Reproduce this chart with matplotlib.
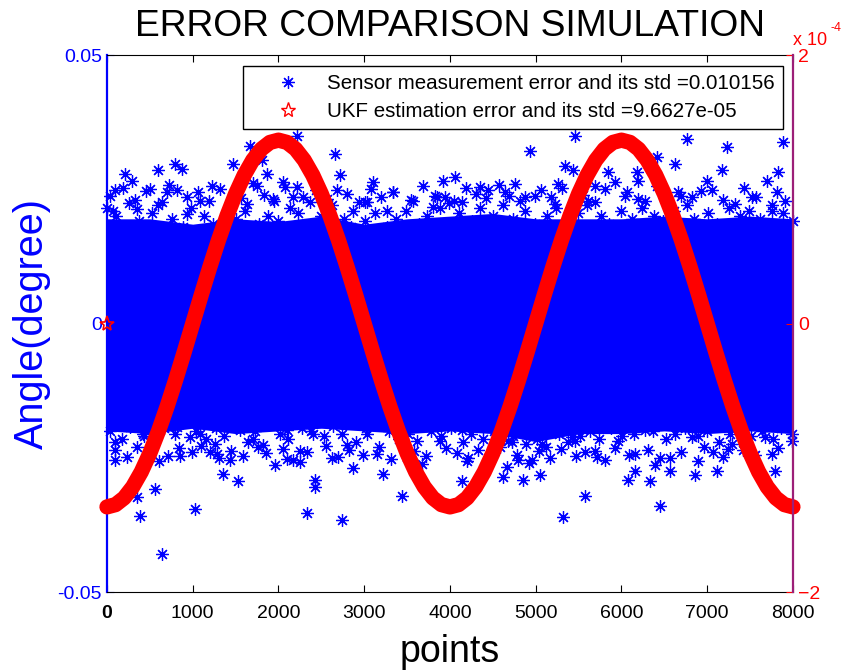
import matplotlib
matplotlib.use('Agg')
import matplotlib.pyplot as plt
from matplotlib.lines import Line2D

plt.rcParams['font.family'] = ['Liberation Sans', 'DejaVu Sans']

# dense core of the sensor error cloud (upper / lower edge), read every 500 points
core_x = [0, 500, 1000, 1500, 2000, 2500, 3000, 3500, 4000,
          4500, 5000, 5500, 6000, 6500, 7000, 7500, 8000]
core_hi = [0.0195, 0.0195, 0.0185, 0.0195, 0.0190, 0.0200, 0.0185, 0.0195, 0.0200,
           0.0205, 0.0195, 0.0195, 0.0195, 0.0200, 0.0195, 0.0200, 0.0195]
core_lo = [-0.0200, -0.0205, -0.0195, -0.0205, -0.0200, -0.0195, -0.0200, -0.0205,
           -0.0200, -0.0205, -0.0220, -0.0205, -0.0205, -0.0200, -0.0205, -0.0200,
           -0.0205]

# ragged upper edge of the cloud
edge_hi_x = [0, 110, 260, 370, 520, 600, 760, 890, 980, 1130, 1240, 1390, 1500, 1610,
             1770, 1880, 1990, 2140, 2230, 2390, 2500, 2620, 2760, 2850, 3010, 3120,
             3260, 3370, 3490, 3640, 3730, 3880, 3990, 4110, 4260, 4350, 4500, 4620,
             4740, 4880, 4990, 5130, 5240, 5370, 5490, 5600, 5760, 5860, 5990, 6120,
             6240, 6380, 6490, 6610, 6760, 6850, 7010, 7120, 7250, 7380, 7490, 7620,
             7750, 7880, 8000]
edge_hi = [0.0215, 0.0200, 0.0225, 0.0190, 0.0205, 0.0220, 0.0195, 0.0180, 0.0215, 0.0200,
           0.0185, 0.0175, 0.0195, 0.0210, 0.0185, 0.0200, 0.0190, 0.0215, 0.0205, 0.0185,
           0.0200, 0.0220, 0.0195, 0.0180, 0.0190, 0.0205, 0.0180, 0.0195, 0.0210, 0.0185,
           0.0200, 0.0215, 0.0225, 0.0205, 0.0190, 0.0215, 0.0200, 0.0220, 0.0195, 0.0210,
           0.0185, 0.0200, 0.0215, 0.0190, 0.0205, 0.0220, 0.0200, 0.0185, 0.0210, 0.0195,
           0.0215, 0.0200, 0.0190, 0.0210, 0.0220, 0.0195, 0.0205, 0.0185, 0.0215, 0.0200,
           0.0210, 0.0195, 0.0220, 0.0205, 0.0190]

# ragged lower edge of the cloud
edge_lo_x = [40, 170, 280, 430, 540, 660, 790, 880, 1040, 1150, 1270, 1360, 1530, 1640,
             1730, 1890, 2020, 2110, 2270, 2380, 2530, 2640, 2740, 2900, 3020, 3130,
             3290, 3400, 3510, 3620, 3780, 3900, 4010, 4150, 4240, 4390, 4510, 4640,
             4730, 4890, 5010, 5120, 5270, 5380, 5520, 5630, 5740, 5880, 6010, 6150,
             6260, 6370, 6520, 6630, 6740, 6890, 7000, 7140, 7270, 7360, 7510, 7640,
             7770, 7860, 7990]
edge_lo = [-0.0200, -0.0215, -0.0190, -0.0210, -0.0225, -0.0195, -0.0205, -0.0185, -0.0200, -0.0215,
           -0.0195, -0.0210, -0.0190, -0.0220, -0.0200, -0.0185, -0.0205, -0.0215, -0.0195, -0.0200,
           -0.0210, -0.0190, -0.0205, -0.0220, -0.0195, -0.0185, -0.0200, -0.0215, -0.0205, -0.0190,
           -0.0200, -0.0210, -0.0195, -0.0220, -0.0205, -0.0215, -0.0200, -0.0190, -0.0210, -0.0225,
           -0.0215, -0.0230, -0.0205, -0.0220, -0.0210, -0.0200, -0.0215, -0.0195, -0.0210, -0.0205,
           -0.0190, -0.0200, -0.0215, -0.0205, -0.0195, -0.0210, -0.0200, -0.0220, -0.0205, -0.0195,
           -0.0210, -0.0200, -0.0215, -0.0195, -0.0205]

# looser band just outside the edges
outer_hi_x = [30, 190, 330, 450, 640, 720, 930, 1060, 1190, 1320, 1560, 1700, 1830, 1950,
              2080, 2290, 2440, 2570, 2800, 2940, 3080, 3190, 3330, 3540, 3690, 3820,
              4050, 4190, 4300, 4420, 4570, 4690, 4820, 5060, 5180, 5310, 5550, 5690,
              5810, 6060, 6190, 6420, 6700, 6930, 7180, 7430, 7570, 7810]
outer_hi = [0.0238, 0.0252, 0.0230, 0.0246, 0.0226, 0.0258, 0.0236, 0.0244, 0.0229, 0.0250,
            0.0234, 0.0262, 0.0240, 0.0228, 0.0254, 0.0236, 0.0248, 0.0231, 0.0242, 0.0226,
            0.0250, 0.0235, 0.0244, 0.0230, 0.0256, 0.0238, 0.0228, 0.0252, 0.0242, 0.0233,
            0.0258, 0.0238, 0.0229, 0.0248, 0.0236, 0.0252, 0.0240, 0.0227, 0.0250, 0.0244,
            0.0232, 0.0256, 0.0238, 0.0246, 0.0230, 0.0252, 0.0236, 0.0244]
outer_lo_x = [90, 230, 350, 500, 610, 840, 990, 1100, 1310, 1450, 1590, 1760, 1860, 2050,
              2170, 2330, 2560, 2690, 2820, 2980, 3170, 3310, 3580, 3720, 3950, 4080,
              4200, 4330, 4460, 4580, 4780, 4920, 5040, 5170, 5300, 5470, 5580, 5810,
              5930, 6090, 6310, 6450, 6690, 6960, 7190, 7420, 7560, 7830]
outer_lo = [-0.0236, -0.0248, -0.0230, -0.0244, -0.0256, -0.0232, -0.0240, -0.0228, -0.0250, -0.0238,
            -0.0246, -0.0230, -0.0242, -0.0234, -0.0254, -0.0240, -0.0228, -0.0248, -0.0236, -0.0244,
            -0.0230, -0.0252, -0.0238, -0.0246, -0.0232, -0.0242, -0.0256, -0.0236, -0.0248, -0.0230,
            -0.0244, -0.0260, -0.0238, -0.0250, -0.0234, -0.0246, -0.0240, -0.0254, -0.0232, -0.0244,
            -0.0236, -0.0250, -0.0240, -0.0230, -0.0248, -0.0236, -0.0244, -0.0232]

# scattered sensor error samples outside the cloud (point index, error)
fringe_x = [1668, 1473, 1804, 2212, 2659, 2717, 793, 871, 599, 210, 288, 93, 501,
            1221, 1862, 2056, 2212, 1746, 2678, 3106, 3339, 3922, 3845, 3028, 812,
            5458, 4933, 6760, 7226, 7887, 6410, 6624, 5341, 5438, 5846, 6177, 7167,
            7828, 4058, 5924, 6196, 6993, 7693, 5264, 4350, 4758, 5691, 7517, 7907,
            4136, 4991, 6662, 6041,
            74, 346, 696, 929, 1085, 1629, 1940, 2173, 2367, 2873, 3009, 3262, 3572,
            3806, 3942, 4447, 4641, 4875, 5224, 5613, 6274, 6818, 7051, 7323, 7751,
            638, 385, 1026, 2329, 2737, 3436, 560, 346, 2426, 2426, 1357, 1531, 3222,
            2873, 93, 1434, 1959, 2096, 2251, 2620, 3144, 715, 851, 1201, 1279, 2795,
            3669, 2251, 93, 1823, 1259, 3494,
            5322, 5574, 6449, 4136, 4855, 4622, 5050, 6072, 6332, 6157, 6565, 6391,
            6857, 6896, 7109, 7790, 4214, 4661, 4797, 4952, 6565, 7070, 7751, 5710,
            6157, 4719, 5458, 7245,
            268, 424, 812, 968, 1085, 1551, 1706, 2096, 2406, 3028, 3611, 3883,
            4136, 4680, 5069, 5418, 5691, 5963, 6274, 6818, 7284, 7673, 7984]
fringe_y = [0.0331, 0.0297, 0.0304, 0.0350, 0.0316, 0.0276, 0.0297, 0.0288, 0.0285,
            0.0279, 0.0266, 0.0248, 0.0251, 0.0257, 0.0279, 0.0263, 0.0254, 0.0257,
            0.0248, 0.0263, 0.0245, 0.0266, 0.0235, 0.0226, 0.0248,
            0.0350, 0.0322, 0.0344, 0.0328, 0.0338, 0.0310, 0.0297, 0.0294, 0.0285,
            0.0282, 0.0282, 0.0285, 0.0282, 0.0272, 0.0263, 0.0266, 0.0266, 0.0266,
            0.0260, 0.0254, 0.0260, 0.0257, 0.0235, 0.0229, 0.0226, 0.0238, 0.0245,
            0.0238,
            0.0210, 0.0214, 0.0245, 0.0204, 0.0229, 0.0223, 0.0232, 0.0235, 0.0226,
            0.0210, 0.0226, 0.0210, 0.0229, 0.0217, 0.0235, 0.0248, 0.0245, 0.0235,
            0.0223, 0.0229, 0.0229, 0.0235, 0.0248, 0.0223, 0.0210,
            -0.0429, -0.0358, -0.0345, -0.0353, -0.0366, -0.0322, -0.0308, -0.0323,
            -0.0292, -0.0305, -0.0280, -0.0294, -0.0280, -0.0269, -0.0254, -0.0255,
            -0.0263, -0.0252, -0.0258, -0.0250, -0.0243, -0.0246, -0.0246, -0.0240,
            -0.0243, -0.0227, -0.0261, -0.0237, -0.0221, -0.0227, -0.0224, -0.0249,
            -0.0361, -0.0322, -0.0339, -0.0294, -0.0291, -0.0286, -0.0283, -0.0291,
            -0.0294, -0.0274, -0.0274, -0.0264, -0.0283, -0.0256, -0.0274, -0.0274,
            -0.0250, -0.0268, -0.0255, -0.0255, -0.0250, -0.0240, -0.0243, -0.0248,
            -0.0243, -0.0221, -0.0218, -0.0234,
            -0.0193, -0.0205, -0.0193, -0.0212, -0.0205, -0.0199, -0.0215, -0.0199,
            -0.0205, -0.0205, -0.0218, -0.0218,
            -0.0199, -0.0218, -0.0224, -0.0212, -0.0237, -0.0218, -0.0199, -0.0212,
            -0.0224, -0.0212, -0.0218]

# UKF estimation error in units of 1e-4, read every 100 points
ukf_x = list(range(0, 8001, 100))
ukf_err = [-1.366, -1.349, -1.299, -1.217, -1.105, -0.966, -0.803, -0.620, -0.422, -0.214,
           0.000, 0.214, 0.422, 0.620, 0.803, 0.966, 1.105, 1.217, 1.299, 1.349,
           1.366, 1.349, 1.299, 1.217, 1.105, 0.966, 0.803, 0.620, 0.422, 0.214,
           0.000, -0.214, -0.422, -0.620, -0.803, -0.966, -1.105, -1.217, -1.299, -1.349,
           -1.366, -1.349, -1.299, -1.217, -1.105, -0.966, -0.803, -0.620, -0.422, -0.214,
           0.000, 0.214, 0.422, 0.620, 0.803, 0.966, 1.105, 1.217, 1.299, 1.349,
           1.366, 1.349, 1.299, 1.217, 1.105, 0.966, 0.803, 0.620, 0.422, 0.214,
           0.000, -0.214, -0.422, -0.620, -0.803, -0.966, -1.105, -1.217, -1.299, -1.349,
           -1.366]

sensor_label = 'Sensor measurement error and its std =0.010156'
ukf_label = 'UKF estimation error and its std =9.6627e-05'
x_ticks = [0, 1000, 2000, 3000, 4000, 5000, 6000, 7000, 8000]

asterisk = (8, 2, 0)
purple = '#9c1f78'
star_kw = dict(ls='none', marker=asterisk, ms=9, mew=0.9, color='b', clip_on=False)

fig = plt.figure(figsize=(8.45, 6.71), dpi=100)
ax = fig.add_axes([0.1266, 0.1177, 0.8118, 0.8003])

ax.fill_between(core_x, core_lo, core_hi, color='b', lw=0)
ax.plot(edge_hi_x, edge_hi, **star_kw)
ax.plot(edge_lo_x, edge_lo, **star_kw)
ax.plot(outer_hi_x, outer_hi, **star_kw)
ax.plot(outer_lo_x, outer_lo, **star_kw)
ax.plot(fringe_x, fringe_y, **star_kw)

ax.set_xlim(0, 8000)
ax.set_ylim(-0.05, 0.05)
ax.set_xticks(x_ticks)
ax.set_yticks([-0.05, 0, 0.05])
ax.set_yticklabels(['-0.05', '0', '0.05'])
ax.tick_params(axis='both', direction='in', length=5, labelsize=14,
               top=True, right=False)
ax.tick_params(axis='y', colors='b')
ax.tick_params(axis='x', colors='k', pad=9)
ax.get_xticklabels()[0].set_fontweight('bold')
ax.spines['left'].set_color('b')
ax.spines['left'].set_linewidth(1.6)
ax.spines['right'].set_visible(False)

ax.set_xlabel('points', fontsize=27, labelpad=9)
ax.set_ylabel('Angle(degree)', fontsize=28.5, color='b', labelpad=5)
ax.set_title('ERROR COMPARISON SIMULATION', fontsize=26.8, pad=14)

ax2 = ax.twinx()
ax2.plot(ukf_x, ukf_err, color='r', lw=11,
         solid_capstyle='round', solid_joinstyle='round', clip_on=False)
ax2.plot([0], [0], ls='none', marker='*', ms=11, mfc='none', mec='r',
         mew=1.2, clip_on=False)
ax2.set_ylim(-2, 2)
ax2.set_yticks([-2, 0, 2])
ax2.tick_params(axis='y', direction='in', length=5, labelsize=14, colors='r')
ax2.spines['right'].set_color(purple)
ax2.spines['right'].set_linewidth(1.6)
ax2.spines['left'].set_visible(False)
ax2.spines['top'].set_visible(False)
ax2.spines['bottom'].set_visible(False)

ax2.text(1.0, 1.0186, 'x 10', transform=ax2.transAxes, color='r', fontsize=13,
         ha='left', va='baseline')
ax2.text(1.0554, 1.0447, '-4', transform=ax2.transAxes, color='r', fontsize=9,
         ha='left', va='baseline')

handles = [Line2D([], [], ls='none', marker=asterisk, ms=9, mew=0.9, color='b'),
           Line2D([], [], ls='none', marker='*', ms=11, mfc='none', mec='r', mew=1.0)]
leg = ax2.legend(handles, [sensor_label, ukf_label], loc='upper right',
                 bbox_to_anchor=(0.9854, 0.98), borderaxespad=0, fontsize=14.8,
                 frameon=True, fancybox=False, edgecolor='k', framealpha=1.0,
                 borderpad=0.4, labelspacing=0.45, handletextpad=0.1,
                 handlelength=3.6)
leg.get_frame().set_linewidth(1.0)
leg.set_zorder(10)

fig.savefig('out.png', dpi=100)
